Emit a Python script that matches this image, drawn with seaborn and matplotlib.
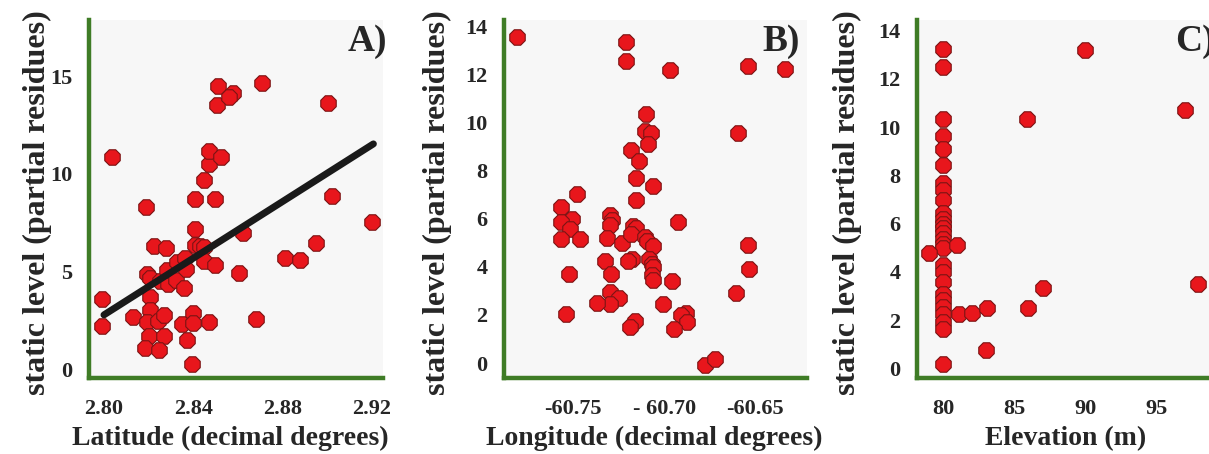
import matplotlib
matplotlib.use("Agg")
import matplotlib.pyplot as plt
import seaborn as sns
import pandas as pd

# === data ===

lat = [2.8035, 2.799, 2.799, 2.8187, 2.8132, 2.8192, 2.8207, 2.8207, 2.8207, 2.8192,
       2.8244, 2.827, 2.8204, 2.8267, 2.8184, 2.8247, 2.8225, 2.8277, 2.8252, 2.8285,
       2.8282, 2.8327, 2.8322, 2.8361, 2.8368, 2.836, 2.8406, 2.8406, 2.843, 2.8446,
       2.8446, 2.8496, 2.8622, 2.8604, 2.881, 2.8876, 2.8948, 2.92, 2.9023, 2.8406,
       2.8499, 2.8449, 2.8472, 2.8472, 2.8526, 2.8506, 2.8509, 2.8578, 2.8562, 2.8709,
       2.9005, 2.8349, 2.8401, 2.8401, 2.8469, 2.8372, 2.8394, 2.8679]
res_lat = [10.88, 3.60, 2.22, 8.32, 2.66, 4.88, 4.69, 3.68, 3.03, 2.44,
           2.49, 2.78, 1.70, 1.70, 1.07, 0.99, 6.33, 6.19, 4.52, 4.35,
           5.08, 5.51, 4.57, 5.68, 5.11, 4.14, 7.16, 6.36, 6.31, 6.27,
           5.54, 5.34, 6.99, 4.94, 5.71, 5.59, 6.44, 7.55, 8.88, 8.71,
           8.71, 9.68, 10.50, 11.17, 10.88, 13.52, 14.49, 14.15, 13.91, 14.66,
           13.61, 2.30, 2.86, 2.35, 2.44, 1.50, 0.27, 2.57]
fit_lat = [2.80, 2.9207]
fit_res = [2.78, 11.53]

lon = [-60.7807, -60.7208, -60.7208, -60.697, -60.654, -60.6335, -60.710, -60.7107,
       -60.707, -60.7089, -60.6595, -60.718, -60.714, -60.7155, -60.7061, -60.7155,
       -60.7478, -60.7566, -60.7505, -60.7564, -60.7518, -60.7566, -60.746, -60.6924,
       -60.7299, -60.7286, -60.7295, -60.731, -60.7231, -60.7171, -60.7153, -60.7182,
       -60.7107, -60.7094, -60.7063, -60.708, -60.7067, -60.7058, -60.7067, -60.7063,
       -60.7176, -60.7198, -60.7326, -60.7292, -60.752, -60.7295, -60.7246, -60.7299,
       -60.7368, -60.7538, -60.7158, -60.7189, -60.6957, -60.7008, -60.688, -60.6906,
       -60.6875, -60.6944, -60.6774, -60.6719, -60.6542, -60.6537, -60.6604]
res_lon = [13.56, 13.35, 12.54, 12.17, 12.35, 12.21, 10.33, 9.63,
           9.56, 9.09, 9.54, 8.84, 8.40, 7.67, 7.36, 6.79,
           7.04, 6.49, 6.00, 5.84, 5.56, 5.14, 5.14, 5.86,
           6.14, 5.93, 5.72, 5.21, 4.99, 5.68, 5.61, 5.38,
           5.24, 5.07, 4.87, 4.34, 4.13, 3.99, 3.67, 3.44,
           4.34, 4.23, 4.23, 3.72, 3.72, 2.95, 2.70, 2.47,
           2.50, 2.02, 1.73, 1.50, 3.41, 2.47, 2.08, 2.01,
           1.70, 1.43, -0.07, 0.15, 4.92, 3.92, 2.91]

elev = [80, 80, 89.96, 85.93, 96.99, 97.93,
        80, 80, 80, 80, 80, 80, 80, 80, 80, 80, 80, 80, 80,
        80, 80, 80, 80, 80, 80, 80, 80, 80, 80, 80, 80,
        79.02, 80.98, 81.1, 82.04, 83.12, 83.05, 85.98, 87.03]
res_elev = [13.22, 12.50, 13.2, 10.32, 10.71, 3.49,
            10.33, 9.63, 9.09, 8.45, 7.69, 7.41, 6.97, 6.42, 6.21, 6.0, 5.8, 5.59, 5.38,
            5.17, 4.97, 4.27, 4.0, 3.58, 3.10, 2.82, 2.55, 2.27, 1.92, 1.65, 0.19,
            4.80, 5.10, 2.27, 2.31, 2.52, 0.75, 2.52, 3.35]

# === style ===

sns.set_style("white")
plt.rcParams["font.family"] = ["Liberation Serif", "DejaVu Serif"]
plt.rcParams["font.weight"] = "bold"

GREEN = "#3f7c26"
RED = "#e8161c"
EDGE = "#7a1414"
BG = "#f7f7f7"

fig = plt.figure(figsize=(12.09, 4.54), dpi=100)

W, H = 1209.0, 454.0
panels = [
    dict(left=89, width=294, x=lat, y=res_lat, xlim=(2.7933, 2.925), ylim=(-0.45, 17.87),
         xticks=[2.80, 2.82, 2.84, 2.86, 2.88, 2.90, 2.92],
         xticklabels=["2.80", "", "2.84", "", "2.88", "", "2.92"],
         yticks=[0, 5, 10, 15], xlabel="Latitude (decimal degrees)",
         tag="A)", tag_x=1.013, tag_ha="right", ylab_x=-0.125, xlab_x=0.48),
    dict(left=504, width=303, x=lon, y=res_lon, xlim=(-60.7877, -60.6217), ylim=(-0.62, 14.25),
         xticks=[-60.75, -60.70, -60.65],
         xticklabels=["-60.75", "- 60.70", "-60.65"],
         yticks=[0, 2, 4, 6, 8, 10, 12, 14], xlabel="Longitude (decimal degrees)",
         tag="B)", tag_x=0.977, tag_ha="right", ylab_x=-0.17, xlab_x=0.495),
    dict(left=917, width=303, x=elev, y=res_elev, xlim=(78.17, 99.48), ylim=(-0.4, 14.44),
         xticks=[80, 85, 90, 95],
         xticklabels=["80", "85", "90", "95"],
         yticks=[0, 2, 4, 6, 8, 10, 12, 14], xlabel="Elevation (m)",
         tag="C)", tag_x=0.851, tag_ha="left", ylab_x=-0.18, xlab_x=0.49),
]

for i, p in enumerate(panels):
    ax = fig.add_axes([p["left"] / W, 1 - 378 / H, p["width"] / W, 358 / H])
    ax.set_facecolor(BG)
    df = pd.DataFrame({"x": p["x"], "y": p["y"]})
    sns.scatterplot(data=df, x="x", y="y", ax=ax, marker="8", s=145,
                    color=RED, edgecolor=EDGE, linewidth=0.8, zorder=3, clip_on=False)
    if i == 0:
        sns.lineplot(x=fit_lat, y=fit_res, ax=ax, color="#1a1a1a", linewidth=5,
                     solid_capstyle="round", zorder=4)
    ax.set_xlim(p["xlim"])
    ax.set_ylim(p["ylim"])
    ax.set_xticks(p["xticks"])
    ax.set_xticklabels(p["xticklabels"])
    ax.set_yticks(p["yticks"])
    for s in ["top", "right"]:
        ax.spines[s].set_visible(False)
    for s in ["left", "bottom"]:
        ax.spines[s].set_color(GREEN)
        ax.spines[s].set_linewidth(3.2)
    ax.tick_params(axis="both", direction="out", length=6, width=1.3, color="#222222",
                   labelsize=16)
    ax.tick_params(axis="x", pad=9)
    ax.tick_params(axis="y", pad=6)
    for lab in ax.get_xticklabels() + ax.get_yticklabels():
        lab.set_fontweight("bold")
    ax.set_ylabel("static level (partial residues)", fontsize=23, fontweight="bold")
    ax.yaxis.set_label_coords(p["ylab_x"], 0.49)
    ax.set_xlabel(p["xlabel"], fontsize=20, fontweight="bold")
    ax.xaxis.set_label_coords(p["xlab_x"], -0.135)
    ax.text(p["tag_x"], 0.99, p["tag"], transform=ax.transAxes, ha=p["tag_ha"], va="top",
            fontsize=27, fontweight="bold")

fig.savefig("out.png", dpi=100, facecolor="white")
